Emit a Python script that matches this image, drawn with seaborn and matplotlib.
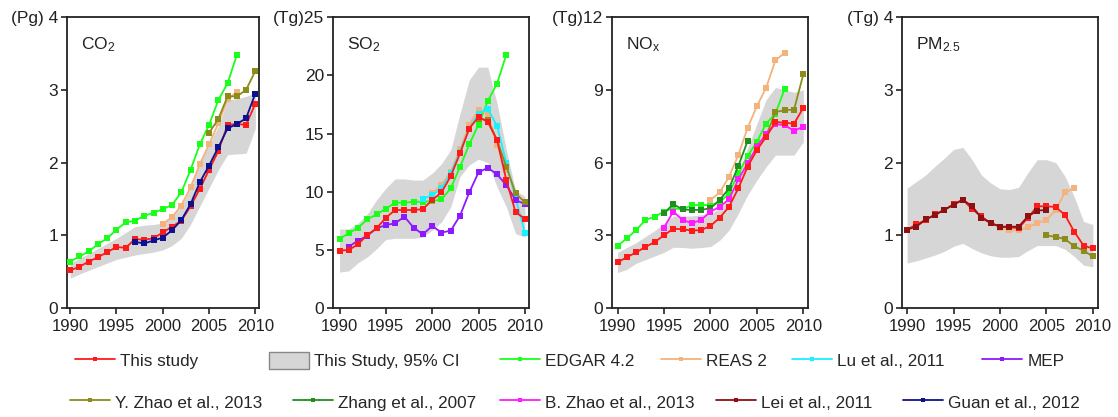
import pandas as pd
import matplotlib
matplotlib.use("Agg")
import matplotlib.pyplot as plt
from matplotlib.lines import Line2D
from matplotlib.patches import Patch
import seaborn as sns

years = list(range(1990, 2011))

# CO2 (Pg)
co2_this_study = [0.52, 0.57, 0.64, 0.70, 0.77, 0.84, 0.83, 0.95, 0.94, 0.96, 1.04,
                  1.12, 1.20, 1.40, 1.64, 1.90, 2.16, 2.52, 2.53, 2.52, 2.81]
co2_ci_low = [0.41, 0.47, 0.52, 0.57, 0.62, 0.67, 0.70, 0.73, 0.75, 0.77, 0.80,
              0.86, 0.96, 1.15, 1.40, 1.65, 1.90, 2.11, 2.12, 2.13, 2.47]
co2_ci_high = [0.62, 0.68, 0.75, 0.82, 0.89, 0.96, 1.04, 1.12, 1.14, 1.15, 1.17,
               1.25, 1.40, 1.65, 1.99, 2.25, 2.50, 2.86, 2.88, 2.91, 2.96]
co2_edgar = [0.64, 0.71, 0.78, 0.88, 0.96, 1.08, 1.18, 1.20, 1.27, 1.31, 1.36,
             1.42, 1.59, 1.90, 2.25, 2.52, 2.86, 3.09, 3.48]           # 1990-2008
co2_reas = [1.16, 1.25, 1.41, 1.66, 1.98, 2.25, 2.54, 2.87, 2.97]       # 2000-2008
co2_yzhao = [2.41, 2.60, 2.91, 2.91, 3.00, 3.26]                        # 2005-2010
co2_guan = [0.91, 0.89, 0.93, 0.97, 1.07, 1.21, 1.43, 1.73, 1.96, 2.21,
            2.47, 2.53, 2.61, 2.95]                                      # 1997-2010

# SO2 (Tg)
so2_this_study = [4.94, 5.00, 5.49, 6.29, 6.86, 7.77, 8.43, 8.43, 8.43, 8.51, 9.29,
                  9.94, 11.34, 13.29, 15.43, 16.43, 16.00, 14.43, 11.00, 8.23, 7.69]
so2_ci_low = [3.1, 3.2, 3.9, 4.4, 5.1, 5.9, 6.0, 6.0, 6.0, 6.1, 6.7,
              7.4, 8.7, 11.3, 12.3, 12.8, 12.5, 10.4, 8.7, 6.4, 6.1]
so2_ci_high = [6.8, 6.8, 7.3, 8.1, 9.3, 10.3, 11.1, 11.1, 11.0, 11.0, 11.6,
               12.4, 13.6, 16.7, 19.6, 20.7, 20.7, 17.6, 13.6, 10.1, 9.6]
so2_edgar = [5.97, 6.43, 6.91, 7.63, 8.06, 8.54, 9.06, 9.06, 9.14, 9.14, 9.20,
             9.34, 10.29, 12.14, 14.06, 15.77, 17.80, 19.29, 21.77]      # 1990-2008
so2_reas = [9.91, 10.57, 11.71, 13.63, 15.77, 17.06, 16.71, 14.00, 11.86]  # 2000-2008
so2_lu = [9.40, 9.71, 10.29, 11.57, 13.43, 15.43, 16.71, 17.14, 15.63,
          12.49, 9.43, 6.49]                                             # 1999-2010
so2_mep = [5.29, 5.80, 6.23, 6.86, 7.14, 7.29, 7.86, 6.91, 6.34, 7.06, 6.49,
           6.66, 7.94, 9.94, 11.66, 12.06, 11.49, 10.57, 9.29, 8.94]     # 1991-2010
so2_yzhao = [16.29, 16.14, 14.43, 12.14, 9.86, 9.09]                     # 2005-2010

# NOx (Tg)
nox_this_study = [1.89, 2.10, 2.30, 2.52, 2.73, 3.00, 3.28, 3.25, 3.20, 3.22, 3.39,
                  3.73, 4.18, 4.94, 5.83, 6.52, 7.06, 7.68, 7.64, 7.61, 8.26]
nox_ci_low = [1.47, 1.60, 1.85, 2.00, 2.15, 2.30, 2.51, 2.50, 2.47, 2.50, 2.54,
              2.80, 3.22, 3.90, 4.66, 5.28, 5.83, 6.31, 6.31, 6.31, 6.86]
nox_ci_high = [2.30, 2.50, 2.70, 2.95, 3.20, 3.50, 3.80, 3.80, 3.80, 3.85, 3.90,
               4.10, 4.60, 5.50, 6.60, 7.60, 8.60, 9.10, 9.00, 8.90, 9.00]
nox_edgar = [2.57, 2.88, 3.22, 3.64, 3.77, 3.98, 4.12, 4.07, 4.25, 4.25, 4.25,
             4.36, 4.73, 5.56, 6.27, 6.86, 7.61, 8.02, 9.05]             # 1990-2008
nox_reas = [4.46, 4.77, 5.42, 6.31, 7.43, 8.33, 9.09, 10.22, 10.53]      # 2000-2008
nox_zhang = [3.91, 4.29, 4.07, 4.05, 4.05, 4.12, 4.46, 4.94, 5.86, 6.89]  # 1995-2004
nox_bzhao = [3.32, 3.98, 3.64, 3.50, 3.64, 3.98, 4.18, 4.49, 5.31, 5.97,
             6.65, 7.20, 7.59, 7.54, 7.31, 7.48]                         # 1995-2010
nox_yzhao = [6.70, 7.10, 8.09, 8.16, 8.19, 9.64]                         # 2005-2010

# PM2.5 (Tg)
pm_this_study = [1.08, 1.15, 1.21, 1.29, 1.35, 1.43, 1.49, 1.36, 1.26, 1.17, 1.12,
                 1.11, 1.10, 1.24, 1.40, 1.40, 1.39, 1.28, 1.05, 0.86, 0.82]
pm_ci_low = [0.62, 0.65, 0.69, 0.73, 0.78, 0.85, 0.89, 0.82, 0.76, 0.72, 0.70,
             0.70, 0.71, 0.79, 0.86, 0.86, 0.86, 0.81, 0.71, 0.59, 0.57]
pm_ci_high = [1.65, 1.74, 1.83, 1.95, 2.06, 2.18, 2.21, 2.04, 1.83, 1.72, 1.64,
              1.63, 1.66, 1.86, 2.04, 2.04, 2.00, 1.81, 1.53, 1.19, 1.15]
pm_lei = [1.08, 1.12, 1.22, 1.28, 1.35, 1.42, 1.49, 1.40, 1.24, 1.17, 1.12,
          1.12, 1.12, 1.26, 1.34, 1.35]                                  # 1990-2005
pm_reas = [1.10, 1.07, 1.07, 1.11, 1.17, 1.21, 1.35, 1.59, 1.65]         # 2000-2008
pm_yzhao = [1.00, 0.98, 0.95, 0.85, 0.79, 0.71]                          # 2005-2010

# colours per data source
colors = {"This study": "#ff1a1a", "EDGAR 4.2": "#1aff1a", "REAS 2": "#f4b27c",
          "Lu et al., 2011": "#1af0ff", "MEP": "#8c1aff",
          "Y. Zhao et al., 2013": "#8c8c1a", "Zhang et al., 2007": "#1f8f1f",
          "B. Zhao et al., 2013": "#ff1aff", "Lei et al., 2011": "#8f1010",
          "Guan et al., 2012": "#10108f"}
draw_order = ["EDGAR 4.2", "REAS 2", "Lu et al., 2011", "MEP", "Y. Zhao et al., 2013",
              "Zhang et al., 2007", "B. Zhao et al., 2013", "This study",
              "Lei et al., 2011", "Guan et al., 2012"]
ci_label = "This Study, 95% CI"
legend_row1 = ["This study", ci_label, "EDGAR 4.2", "REAS 2", "Lu et al., 2011", "MEP"]
legend_row2 = ["Y. Zhao et al., 2013", "Zhang et al., 2007", "B. Zhao et al., 2013",
               "Lei et al., 2011", "Guan et al., 2012"]


def long_df(series):
    rows = []
    for name, (start, vals) in series.items():
        for i, v in enumerate(vals):
            rows.append({"year": start + i, "value": v, "source": name})
    return pd.DataFrame(rows)


panels = [
    {"title": "CO$_2$", "ylim": 4, "ticks": [0, 1, 2, 3, 4], "unit": "(Pg) ",
     "xlim": (1989.65, 2010.35), "low": co2_ci_low, "high": co2_ci_high,
     "series": {"This study": (1990, co2_this_study), "EDGAR 4.2": (1990, co2_edgar),
                "REAS 2": (2000, co2_reas), "Y. Zhao et al., 2013": (2005, co2_yzhao),
                "Guan et al., 2012": (1997, co2_guan)}},
    {"title": "SO$_2$", "ylim": 25, "ticks": [0, 5, 10, 15, 20, 25], "unit": "(Tg)",
     "xlim": (1989.3, 2010.45), "low": so2_ci_low, "high": so2_ci_high,
     "series": {"This study": (1990, so2_this_study), "EDGAR 4.2": (1990, so2_edgar),
                "REAS 2": (2000, so2_reas), "Lu et al., 2011": (1999, so2_lu),
                "MEP": (1991, so2_mep), "Y. Zhao et al., 2013": (2005, so2_yzhao)}},
    {"title": "NO$_x$", "ylim": 12, "ticks": [0, 3, 6, 9, 12], "unit": "(Tg)",
     "xlim": (1989.4, 2010.5), "low": nox_ci_low, "high": nox_ci_high,
     "series": {"This study": (1990, nox_this_study), "EDGAR 4.2": (1990, nox_edgar),
                "REAS 2": (2000, nox_reas), "Zhang et al., 2007": (1995, nox_zhang),
                "B. Zhao et al., 2013": (1995, nox_bzhao),
                "Y. Zhao et al., 2013": (2005, nox_yzhao)}},
    {"title": "PM$_{2.5}$", "ylim": 4, "ticks": [0, 1, 2, 3, 4], "unit": "(Tg) ",
     "xlim": (1989.45, 2010.55), "low": pm_ci_low, "high": pm_ci_high,
     "series": {"This study": (1990, pm_this_study), "Lei et al., 2011": (1990, pm_lei),
                "REAS 2": (2000, pm_reas), "Y. Zhao et al., 2013": (2005, pm_yzhao)}},
]

sns.set_theme(style="ticks")
plt.rcParams["font.family"] = ["Liberation Sans", "DejaVu Sans"]
plt.rcParams["mathtext.default"] = "regular"

fig = plt.figure(figsize=(11.18, 4.17), dpi=100)
lefts = [0.0599, 0.2979, 0.5474, 0.8068]
widths = [0.1714, 0.1753, 0.1753, 0.1753]

for p, left, w in zip(panels, lefts, widths):
    ax = fig.add_axes([left, 0.261, w, 0.698])
    ax.fill_between(years, p["low"], p["high"], color="#d6d6d6", linewidth=0, zorder=1)
    df = long_df(p["series"])
    order = [s for s in draw_order if s in p["series"]]
    sns.lineplot(data=df, x="year", y="value", hue="source", hue_order=order,
                 palette=colors, marker="s", markersize=4, markeredgewidth=0,
                 linewidth=1.3, estimator=None, legend=False, ax=ax, zorder=3)
    ax.set_xlim(*p["xlim"])
    ax.set_ylim(0, p["ylim"])
    ax.set_xticks([1990, 1995, 2000, 2005, 2010])
    ax.set_yticks(p["ticks"])
    labels = [str(t) for t in p["ticks"]]
    labels[-1] = p["unit"] + labels[-1]
    ax.set_yticklabels(labels)
    ax.set_xlabel("")
    ax.set_ylabel("")
    ax.tick_params(axis="x", labelsize=12, length=4.5, width=1.2, pad=3, colors="#222222")
    ax.tick_params(axis="y", labelsize=12.5, length=4.5, width=1.2, pad=2, colors="#222222")
    for sp in ax.spines.values():
        sp.set_linewidth(1.3)
        sp.set_color("#222222")
    ax.text(0.072, 0.905, p["title"], transform=ax.transAxes, fontsize=12.5,
            color="#222222", va="center")


def handle(name):
    if name == ci_label:
        return Patch(facecolor="#d6d6d6", edgecolor="#888888", linewidth=1)
    return Line2D([], [], color=colors[name], marker="s", markersize=3.5,
                  markeredgewidth=0, linewidth=1.3)


# one legend entry per slot so the uneven spacing of the original is kept
leg_kw = dict(frameon=False, fontsize=12.3, handlelength=2.35, handletextpad=0.3,
              handleheight=1.2, borderaxespad=0, borderpad=0, loc="center left")
row1_x = [75, 269, 500, 661, 792, 982]
row2_x = [70, 293, 500, 716, 903]
for names, xs, y in [(legend_row1, row1_x, 0.135), (legend_row2, row2_x, 0.036)]:
    for name, x in zip(names, xs):
        fig.legend([handle(name)], [name], bbox_to_anchor=(x / 1118, y), **leg_kw)

fig.savefig("out.png", dpi=100)
